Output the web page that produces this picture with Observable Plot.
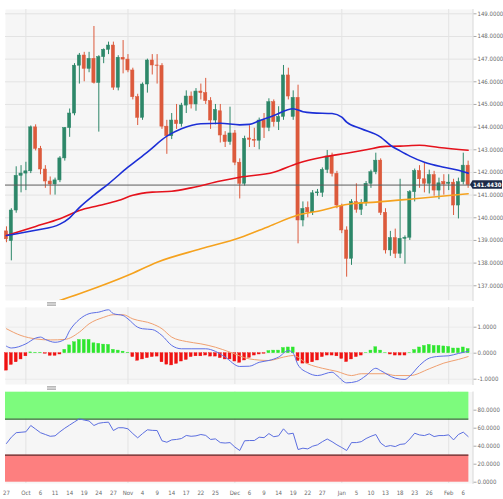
<!DOCTYPE html>
<html>
<head>
<meta charset="utf-8">
<script src="https://cdn.jsdelivr.net/npm/d3@7"></script>
<script src="https://cdn.jsdelivr.net/npm/@observablehq/plot@0.6"></script>
<style>
  html, body { margin: 0; padding: 0; background: #fff; }
  #chart { position: relative; width: 503px; height: 499px; overflow: hidden; }
  #chart svg { position: absolute; left: 0; }
  .handle { position: absolute; left: 47px; width: 9px; height: 2px; background: #d0d0d0;
            border-top: 1px solid #b8b8b8; border-bottom: 1px solid #b8b8b8; }
</style>
</head>
<body>
<div id="chart"></div>
<script>
// Trading sessions, 27 Sep 2022 – 7 Feb 2023 (MM-DD)
const days = ["09-27","09-28","09-29","09-30","10-03","10-04","10-05","10-06","10-07","10-10","10-11","10-12","10-13","10-14","10-17","10-18","10-19","10-20","10-21","10-24","10-25","10-26","10-27","10-28","10-31","11-01","11-02","11-03","11-04","11-07","11-08","11-09","11-10","11-11","11-14","11-15","11-16","11-17","11-18","11-21","11-22","11-23","11-24","11-25","11-28","11-29","11-30","12-01","12-02","12-05","12-06","12-07","12-08","12-09","12-12","12-13","12-14","12-15","12-16","12-19","12-20","12-21","12-22","12-23","12-26","12-27","12-28","12-29","12-30","01-02","01-03","01-04","01-05","01-06","01-09","01-10","01-11","01-12","01-13","01-16","01-17","01-18","01-19","01-20","01-23","01-24","01-25","01-26","01-27","01-30","01-31","02-01","02-02","02-03","02-06","02-07"];

// Daily OHLC
const open = [139.40,138.97,140.32,141.85,141.95,142.05,143.99,143.04,142.13,141.60,
  141.47,141.65,142.62,143.96,144.60,146.71,147.16,146.57,147.01,145.95,
  147.09,147.41,147.60,145.74,147.06,146.98,146.50,145.32,144.41,145.88,
  146.94,146.72,146.70,144.02,143.60,144.29,144.13,144.95,145.35,145.00,
  145.57,145.50,145.15,144.29,144.70,143.63,143.34,143.72,142.43,141.50,
  143.50,143.44,143.40,144.29,143.97,145.10,144.22,144.45,146.28,144.45,
  145.29,139.88,140.43,140.24,141.08,141.10,142.11,142.70,141.94,140.50,
  139.44,138.19,140.69,140.35,140.64,141.50,142.01,142.52,140.22,138.56,
  139.10,138.41,139.07,139.12,141.13,142.06,141.70,141.50,141.88,141.20,
  141.58,141.50,141.55,140.54,141.57,142.30];
const high = [139.60,140.40,142.25,142.30,142.45,144.05,144.10,143.15,142.30,141.80,
  141.75,142.70,143.98,144.80,146.80,147.25,147.30,147.30,148.44,147.15,
  147.45,147.75,147.75,147.15,147.82,147.20,146.60,145.45,145.95,147.00,
  147.20,147.20,146.80,144.30,144.60,145.00,145.05,145.60,145.55,145.70,
  145.90,146.15,145.30,145.00,145.00,143.80,144.88,143.85,142.60,143.60,
  144.06,143.95,144.40,144.60,145.25,145.20,144.90,146.72,146.60,145.60,
  145.85,140.70,140.70,141.20,141.25,142.20,142.97,142.85,142.05,140.60,
  139.60,140.80,141.50,140.80,141.60,142.10,142.85,142.60,140.40,139.40,
  139.50,141.70,139.20,141.20,142.15,142.30,142.40,142.10,142.05,141.75,
  141.90,141.90,141.70,141.75,142.85,142.50];
const low = [138.90,138.10,140.20,141.10,141.20,141.95,142.95,141.90,141.30,141.00,
  141.00,141.55,142.50,143.55,144.50,145.90,146.00,146.40,145.90,143.78,
  146.80,147.20,145.62,145.60,146.35,146.40,145.20,144.07,144.30,145.50,
  146.30,145.90,143.90,142.80,143.45,143.90,144.00,144.60,144.80,144.70,
  145.20,145.00,143.90,144.10,143.30,143.10,143.20,142.30,140.83,141.40,
  143.10,143.10,143.00,143.50,143.80,144.00,143.85,144.30,145.20,144.30,
  138.85,139.60,140.00,140.10,140.95,140.90,141.95,141.80,140.40,139.30,
  137.38,137.90,140.20,140.10,140.50,141.30,141.90,140.10,138.40,138.30,
  138.20,138.20,137.95,139.00,140.70,141.30,141.10,141.05,140.95,140.80,
  141.00,141.20,140.10,139.95,141.45,141.30];
const close = [139.05,140.32,141.85,141.95,142.05,143.99,143.04,142.13,141.60,141.47,
  141.65,142.62,143.96,144.60,146.71,147.16,146.57,147.01,145.95,147.09,
  147.41,147.60,145.74,147.06,146.98,146.50,145.32,144.41,145.88,146.94,
  146.72,146.70,144.02,143.60,144.29,144.13,144.95,145.35,145.00,145.57,
  145.50,145.15,144.29,144.76,143.63,143.34,143.72,142.43,141.50,143.48,
  143.44,143.40,144.29,143.97,145.10,144.22,144.45,146.28,145.35,145.29,
  139.88,140.39,140.24,141.08,141.12,142.11,142.70,141.94,140.54,139.44,
  138.19,140.69,140.35,140.64,141.50,142.01,142.52,140.22,138.56,139.10,
  138.41,139.07,139.12,141.13,142.06,141.70,141.50,141.88,141.20,141.52,
  141.47,141.55,140.54,141.57,142.30,141.443];

// Moving averages, sampled by session
const maFast = [["09-27",139.22],["10-05",139.45],["10-12",139.72],["10-14",140.0],["10-18",140.45],["10-21",141.0],["10-26",141.5],["11-01",142.23],["11-07",142.9],["11-11",143.6],["11-16",143.93],["11-22",144.15],["11-28",144.17],["12-02",144.1],["12-06",144.12],["12-08",144.28],["12-13",144.51],["12-19",144.81],["12-21",144.68],["12-23",144.63],["12-29",144.6],["01-02",144.44],["01-03",144.22],["01-06",143.93],["01-12",143.56],["01-16",143.2],["01-18",142.95],["01-20",142.72],["01-25",142.45],["01-31",142.23],["02-03",142.1],["02-07",141.97]];
const maMid = [["09-27",139.22],["10-05",139.62],["10-12",139.96],["10-18",140.32],["10-24",140.54],["10-28",140.76],["11-02",140.99],["11-08",141.13],["11-14",141.17],["11-18",141.32],["11-28",141.62],["12-02",141.79],["12-13",142.01],["12-20",142.41],["12-27",142.67],["01-03",142.85],["01-09",143.0],["01-13",143.15],["01-18",143.16],["01-24",143.2],["01-30",143.1],["02-07",142.98]];
const maSlow = [["10-11",136.28],["10-19",136.72],["11-01",137.46],["11-09",138.04],["11-22",138.63],["12-02",139.12],["12-12",139.62],["12-20",140.12],["12-27",140.33],["12-30",140.5],["01-04",140.62],["01-11",140.69],["01-23",140.84],["02-07",141.06]];

// MACD line, signal line and histogram
const macdLine = [["09-27",0.27],["09-28",0.2],["10-03",0.36],["10-05",0.58],["10-06",0.62],["10-07",0.53],["10-11",0.42],["10-13",0.53],["10-14",0.87],["10-18",1.3],["10-20",1.52],["10-24",1.58],["10-26",1.67],["10-27",1.52],["10-31",1.45],["11-01",1.32],["11-03",1.0],["11-04",0.94],["11-08",0.91],["11-10",0.68],["11-14",0.3],["11-16",0.17],["11-18",0.17],["11-23",0.17],["11-25",0.07],["11-29",-0.15],["12-02",-0.51],["12-06",-0.5],["12-08",-0.35],["12-12",-0.28],["12-14",-0.15],["12-16",0.1],["12-19",0.0],["12-20",-0.45],["12-22",-0.75],["12-26",-0.86],["12-29",-0.73],["12-30",-0.86],["01-03",-1.14],["01-05",-1.09],["01-09",-0.86],["01-11",-0.58],["01-12",-0.67],["01-17",-0.96],["01-19",-1.01],["01-20",-0.88],["01-24",-0.47],["01-26",-0.19],["01-30",-0.12],["02-01",-0.1],["02-03",-0.01],["02-07",0.07]];
const macdSignal = [["09-27",0.94],["09-30",0.68],["10-05",0.55],["10-10",0.51],["10-13",0.53],["10-18",0.81],["10-20",1.13],["10-25",1.38],["10-27",1.48],["10-31",1.48],["11-02",1.32],["11-08",1.13],["11-10",0.94],["11-14",0.62],["11-17",0.45],["11-22",0.36],["11-25",0.23],["11-30",0.04],["12-06",-0.22],["12-12",-0.28],["12-15",-0.15],["12-19",-0.09],["12-22",-0.41],["12-27",-0.58],["12-30",-0.7],["01-04",-0.86],["01-06",-0.79],["01-13",-0.79],["01-17",-0.86],["01-20",-0.86],["01-26",-0.6],["01-31",-0.38],["02-03",-0.24],["02-07",-0.13]];
const macdHist = [-0.67,-0.45,-0.35,-0.24,-0.12,0.03,0.02,0.02,-0.02,-0.1,
  -0.1,-0.05,0.13,0.3,0.42,0.51,0.51,0.51,0.38,0.36,
  0.33,0.32,0.13,0.1,0.06,0.02,-0.15,-0.29,-0.24,-0.19,
  -0.15,-0.13,-0.35,-0.44,-0.47,-0.41,-0.32,-0.26,-0.15,-0.12,
  -0.12,-0.09,-0.13,-0.13,-0.19,-0.24,-0.24,-0.32,-0.37,-0.28,
  -0.18,-0.09,-0.05,-0.02,0.08,0.1,0.1,0.2,0.22,0.22,
  -0.3,-0.4,-0.4,-0.35,-0.28,-0.15,-0.09,-0.09,-0.12,-0.22,
  -0.34,-0.24,-0.15,-0.09,0.01,0.1,0.23,0.1,0.01,-0.05,
  -0.09,-0.09,-0.09,0.01,0.12,0.22,0.28,0.32,0.28,0.28,
  0.26,0.24,0.18,0.18,0.22,0.16];

// RSI
const rsi = [43,50,55,55.5,56,63,59,55,53,51,
  51.5,56,60,63.5,67,70.4,69,68,63,65.5,
  66.3,66.7,57.4,60.5,60.5,59.3,54,49.3,54,58.2,
  57.6,57.4,46,44.4,47,47.5,48.5,51.9,51,51.5,
  53,52,47.5,48.1,44,43.5,44,39,35.2,46,
  46.3,46.3,50,49.5,54,50.5,51.5,59.3,53.5,54.4,
  36.3,37.8,37,40,41.5,45,48,45,41.5,38.5,
  35.2,44,44,45,48.5,51,53,43.5,39.6,40.7,
  39.6,42,42.6,48,54.4,52.5,51.8,53.7,50.7,51.8,
  51.8,52.6,47,53,55.6,50.7];
const rsiUpper = 70, rsiLower = 30;

// Axis ticks
const priceTicks = [137,138,139,140,141,142,143,144,145,146,147,148,149];
const macdTicks = [-1,0,1];
const rsiTicks = [0,20,40,60,80];
const axisDays = ["09-27","10-03","10-06","10-11","10-14","10-19","10-24","10-27","11-01","11-04","11-09","11-14","11-17","11-22","11-25","12-01","12-06","12-09","12-14","12-19","12-22","12-27","01-02","01-05","01-10","01-13","01-18","01-23","01-26","02-01","02-06"];
const axisText = ["27","Oct","6","11","14","19","24","27","Nov","4","9","14","17","22","25","Dec","6","9","14","19","22","27","Jan","5","10","13","18","23","26","Feb","6"];
const monthStarts = ["10-03","11-01","12-01","01-02","02-01"];

// ---- layout helpers ----
const dayIdx = new Map(days.map((d, i) => [d, i]));
const at = d => dayIdx.get(d[0]);
const val = d => d[1];
const lastIdx = days.length - 1;
const xDomain = [-0.2, 96];
const W = 503, mL = 5, mR = 30.5;
const font = '"Liberation Sans Narrow","Arial Narrow","DejaVu Sans Condensed",sans-serif';
const style = {fontSize: "6px", fontFamily: font, background: "transparent", overflow: "visible"};
const panelBg = "#f6f6f6", gridC = "#e3e3e3", labelC = "#6a6a6a";
const upC = "#2d8769", downC = "#dc5a3c";

const bars = days.map((d, i) => ({i, o: open[i], h: high[i], l: low[i], c: close[i]}));
const rising = bars.filter(b => b.c >= b.o), falling = bars.filter(b => b.c < b.o);
const last = close[lastIdx];
const monthLines = Plot.ruleX(monthStarts, {x: d => dayIdx.get(d), stroke: gridC});
const rightEdge = Plot.frame({anchor: "right", stroke: "#d8d8d8"});
const valueAxis = ticks => Plot.axisY(ticks, {
  anchor: "right", label: null, tickSize: 3, tickPadding: 1.5,
  tickFormat: d => d.toFixed(4), fill: labelC, stroke: "#aaa"
});

// ---- price panel ----
const pricePlot = Plot.plot({
  width: W, height: 300, marginTop: 9, marginBottom: 0, marginLeft: mL, marginRight: mR,
  style,
  x: {type: "linear", domain: xDomain, axis: null},
  y: {domain: [136.35, 149.19], axis: null},
  marks: [
    Plot.frame({fill: panelBg, stroke: null}),
    Plot.ruleY(priceTicks, {stroke: gridC}),
    monthLines,
    Plot.ruleX(rising, {x: "i", y1: "l", y2: "h", stroke: upC, strokeWidth: 1}),
    Plot.ruleX(falling, {x: "i", y1: "l", y2: "h", stroke: downC, strokeWidth: 1}),
    Plot.rect(rising, {x1: b => b.i - 0.33, x2: b => b.i + 0.33, y1: "o", y2: "c", fill: upC, stroke: upC, strokeWidth: 0.5}),
    Plot.rect(falling, {x1: b => b.i - 0.33, x2: b => b.i + 0.33, y1: "o", y2: "c", fill: downC, stroke: downC, strokeWidth: 0.5}),
    Plot.ruleY([last], {stroke: "#5c5c5c", strokeWidth: 1}),
    Plot.line(maSlow, {x: at, y: val, stroke: "#f5a21e", strokeWidth: 1.6, curve: "monotone-x", clip: true}),
    Plot.line(maMid, {x: at, y: val, stroke: "#e5121c", strokeWidth: 1.6, curve: "monotone-x"}),
    Plot.line(maFast, {x: at, y: val, stroke: "#1c2fd6", strokeWidth: 1.6, curve: "monotone-x"}),
    rightEdge,
    valueAxis(priceTicks)
  ]
});

// ---- MACD panel ----
const macdPlot = Plot.plot({
  width: W, height: 79, marginTop: 1, marginBottom: 1, marginLeft: mL, marginRight: mR,
  style,
  x: {type: "linear", domain: xDomain, axis: null},
  y: {domain: [-1.204, 1.758], axis: null},
  marks: [
    Plot.frame({fill: panelBg, stroke: null}),
    Plot.ruleY(macdTicks, {stroke: "#ebebeb"}),
    monthLines,
    Plot.rect(macdHist.map((v, i) => ({i, v})), {
      x1: d => d.i - 0.3, x2: d => d.i + 0.3, y1: 0, y2: "v",
      fill: d => d.v >= 0 ? "#2ee62e" : "#f01212",
      stroke: d => d.v >= 0 ? "#2ee62e" : "#f01212", strokeWidth: 0.4
    }),
    Plot.line(macdSignal, {x: at, y: val, stroke: "#f0a070", strokeWidth: 1, curve: "monotone-x"}),
    Plot.line(macdLine, {x: at, y: val, stroke: "#5d6fe6", strokeWidth: 1, curve: "monotone-x"}),
    rightEdge,
    valueAxis(macdTicks)
  ]
});

// ---- RSI panel ----
const zones = [
  {lo: rsiUpper, hi: 100, fill: "#7dfb7d"},
  {lo: 0, hi: rsiLower, fill: "#fd7f7f"}
];
const rsiPlot = Plot.plot({
  width: W, height: 109, marginTop: 1.5, marginBottom: 16, marginLeft: mL, marginRight: mR,
  style,
  x: {type: "linear", domain: xDomain, axis: null},
  y: {domain: [-1.44, 100.2], axis: null},
  marks: [
    Plot.frame({fill: panelBg, stroke: null}),
    monthLines,
    Plot.rect(zones, {x1: xDomain[0], x2: lastIdx + 0.15, y1: "lo", y2: "hi", fill: "fill"}),
    Plot.ruleY([rsiUpper], {x1: xDomain[0], x2: lastIdx + 0.15, stroke: "#2b6a2b", strokeWidth: 1.3}),
    Plot.ruleY([rsiLower], {x1: xDomain[0], x2: lastIdx + 0.15, stroke: "#5e2c2c", strokeWidth: 1.3}),
    Plot.line(rsi, {x: (d, i) => i, y: d => d, stroke: "#5b6ee0", strokeWidth: 1}),
    rightEdge,
    valueAxis(rsiTicks),
    Plot.axisX(axisDays.map(d => dayIdx.get(d)), {
      anchor: "bottom", label: null, tickSize: 0, tickPadding: 7,
      tickFormat: i => axisText[axisDays.indexOf(days[i])], fill: labelC
    })
  ]
});

// ---- last-price tag on the price scale ----
{
  const ys = pricePlot.scale("y"), xs = pricePlot.scale("x");
  const yL = ys.apply(last), xL = xs.apply(xDomain[1]);
  const svg = d3.select(pricePlot);
  svg.append("path")
    .attr("d", `M${xL - 2.5},${yL} L${xL},${yL - 4.2} L${W - 1},${yL - 4.2} L${W - 1},${yL + 4.2} L${xL},${yL + 4.2} Z`)
    .attr("fill", "#1c2a48");
  svg.append("text")
    .attr("x", (xL + W - 1) / 2).attr("y", yL).attr("dy", "0.35em")
    .attr("text-anchor", "middle").attr("fill", "#fff")
    .attr("font-weight", "bold").attr("font-size", 6).attr("font-family", font)
    .text(last.toFixed(4));
}

// ---- assemble ----
const root = document.getElementById("chart");
[[pricePlot, 0], [macdPlot, 306], [rsiPlot, 390]].forEach(([el, top]) => {
  el.style.top = top + "px";
  root.appendChild(el);
});
[301.5, 386].forEach(top => {
  const h = document.createElement("div");
  h.className = "handle";
  h.style.top = top + "px";
  root.appendChild(h);
});
</script>
</body>
</html>
